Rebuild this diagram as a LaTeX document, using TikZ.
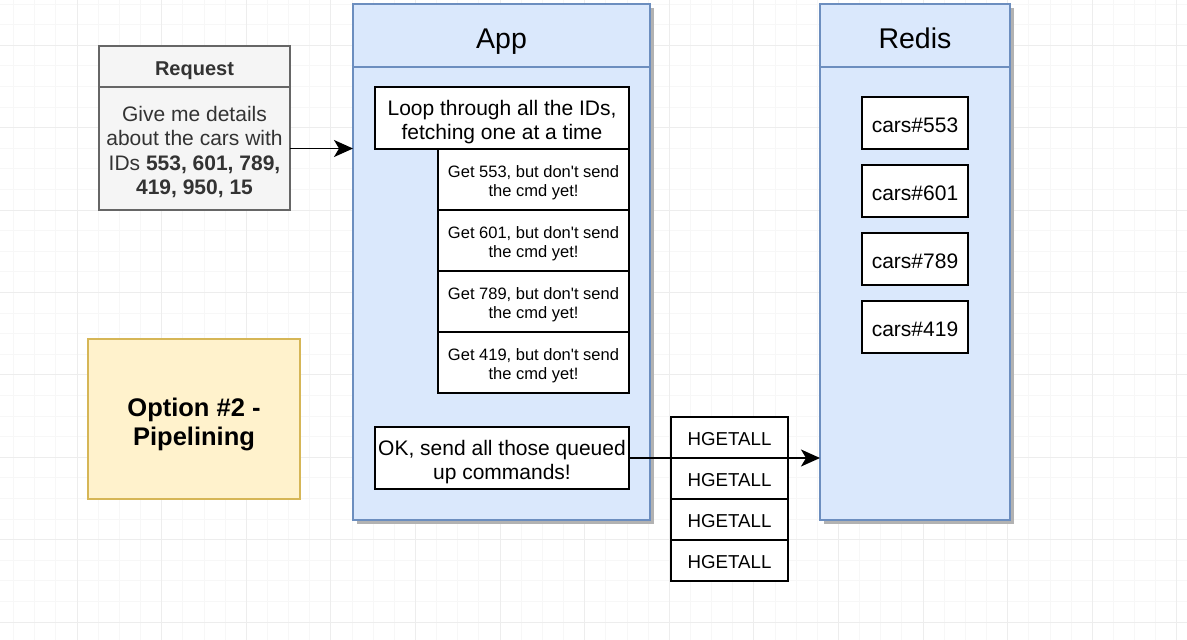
\documentclass[tikz,border=0pt]{standalone}
\usepackage{fontspec}
\setmainfont{Liberation Sans}
\usetikzlibrary{arrows.meta,shadows}

\definecolor{bluefill}{HTML}{DAE8FC}
\definecolor{bluedraw}{HTML}{6C8EBF}
\definecolor{grayfill}{HTML}{F5F5F5}
\definecolor{graydraw}{HTML}{666666}
\definecolor{graytext}{HTML}{333333}
\definecolor{notefill}{HTML}{FFF2CC}
\definecolor{notedraw}{HTML}{D6B656}

\begin{document}
\begin{tikzpicture}[
    x=1pt, y=-1pt,
    gridminor/.style={draw=black!3, line width=0.8pt},
    gridmajor/.style={draw=black!7, line width=0.8pt},
    box/.style={draw, line width=1.8pt, fill=white, inner sep=0pt, outer sep=0pt,
      align=center, font={\fontsize{21}{24.5}\selectfont},
      text height=43.7pt, text depth=0pt},
    getbox/.style={box, minimum width=191pt, minimum height=61pt,
      font={\fontsize{16.5}{19}\selectfont}, text height=34.1pt},
    carbox/.style={box, minimum width=106pt, minimum height=52pt,
      text height=18.9pt},
    cmdbox/.style={box, minimum width=117pt, minimum height=41pt,
      font={\fontsize{18.7}{22}\selectfont}, text height=16.8pt},
    container/.style={draw=bluedraw, fill=bluefill, line width=1.8pt,
      inner sep=0pt, outer sep=0pt, minimum width=#1, minimum height=516pt,
      drop shadow={shadow xshift=4pt, shadow yshift=-4pt, fill=black!30, opacity=1}},
    header/.style={draw=bluedraw, fill=bluefill, line width=1.8pt,
      inner sep=0pt, outer sep=0pt, minimum width=#1, minimum height=63pt,
      font={\fontsize{28.5}{32}\selectfont}, text height=25.6pt, text depth=0pt},
    arrow/.style={-{Stealth[length=19pt, width=17pt, inset=5pt]}, line width=1.8pt}
  ]
  \useasboundingbox (0,0) rectangle (1187,640);

  % grid
  \foreach \k in {-3,...,52}
    \draw [gridminor] ({77+21.15*\k},0) -- ({77+21.15*\k},640);
  \foreach \k in {-10,...,21}
    \draw [gridminor] (0,{210+20.6*\k}) -- (1187,{210+20.6*\k});
  \foreach \k in {-1,...,13}
    \draw [gridmajor] ({77+84.6*\k},0) -- ({77+84.6*\k},640);
  \foreach \k in {-3,...,5}
    \draw [gridmajor] (0,{210+82.4*\k}) -- (1187,{210+82.4*\k});

  % Request
  \node [draw=graydraw, fill=grayfill, line width=1.8pt, inner sep=0pt, outer sep=0pt,
    minimum width=191pt, minimum height=41pt, text=graytext,
    font={\fontsize{20}{24}\selectfont\bfseries},
    text height=18pt, text depth=0pt] (requestHead) at (194.5,66.5) {Request};
  \node [draw=graydraw, fill=grayfill, line width=1.8pt, inner sep=0pt, outer sep=0pt,
    minimum width=191pt, minimum height=123pt, text=graytext, align=center,
    font={\fontsize{21}{24.5}\selectfont},
    text height=92.7pt, text depth=0pt] (request) at (194.5,148.5)
    {Give me details\\about the cars with\\IDs \textbf{553, 601, 789,}\\\textbf{419, 950, 15}};

  % Option note
  \node [draw=notedraw, fill=notefill, line width=1.8pt, inner sep=0pt,
    minimum width=212pt, minimum height=160pt, align=center,
    font={\fontsize{25.5}{29}\selectfont\bfseries},
    text height=52.4pt, text depth=0pt] (option) at (194,419)
    {Option \#2 -\\Pipelining};

  % App
  \node [container=297pt] (app) at (501.5,262) {};
  \node [header=297pt] (appHead) at (501.5,35.5) {App};
  \node [box, minimum width=254pt, minimum height=62pt] (loop) at (502,118)
    {Loop through all the IDs,\\fetching one at a time};
  \foreach \id [count=\i] in {553,601,789,419}
    \node [getbox] (get\id) at (533.5,{179.5+61*(\i-1)})
      {Get \id, but don\textquotesingle t send\\the cmd yet!};
  \node [box, minimum width=254pt, minimum height=62pt] (ok) at (502,458)
    {OK, send all those queued\\up commands!};

  % Redis
  \node [container=190pt] (redis) at (915,262) {};
  \node [header=190pt] (redisHead) at (915,35.5) {Redis};
  \foreach \id [count=\i] in {553,601,789,419}
    \node [carbox] (cars\id) at (915,{123+68*(\i-1)}) {cars\#\id};

  % Queued commands
  \foreach \i in {1,...,4}
    \node [cmdbox] (hget\i) at (729.5,{437.5+41*(\i-1)}) {HGETALL};

  % Connectors
  \draw [arrow] (request.east) -- (request.east -| app.west);
  \draw [arrow] (ok.east) -- (ok.east -| redis.west);
\end{tikzpicture}
\end{document}
